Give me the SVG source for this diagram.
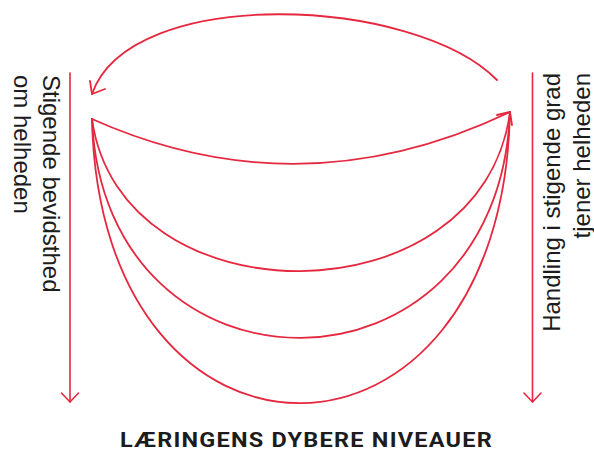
<svg xmlns="http://www.w3.org/2000/svg" width="594" height="453" viewBox="0 0 594 453">
<style>
.ln{fill:none;stroke:#E5283F;stroke-width:1.8;stroke-linecap:round;stroke-linejoin:round}
.ax{fill:none;stroke:#E5283F;stroke-width:1.6;stroke-linecap:round;stroke-linejoin:round}
.lbl{font-family:"Liberation Sans",Arial,sans-serif;font-size:24px;fill:#1c1c1c}
.ttl{font-family:Roboto,"Liberation Sans",sans-serif;font-weight:700;font-size:21px;fill:#1c1c1c}
</style>
<rect width="594" height="453" fill="#fff"/>
<g id="connectors">
  <path class="ln" d="M497 80 C415 -4 130 -16 92 94"/>
  <path class="ln" d="M90 81 L92 94 L105 89"/>
  <path class="ln" d="M92 119 Q300 212 510 112"/>
  <path class="ln" d="M92 119 C120 323 482 323 510 112"/>
  <path class="ln" d="M92 119 C104 412 498 412 510 112"/>
  <path class="ln" d="M92 119 C100 499 502 499 510 112"/>
  <path class="ln" d="M497 115 L510 112 L512 125"/>
  <path class="ax" d="M70 73 L70 402"/>
  <path class="ax" d="M61.5 393 L70 402 L78.5 393"/>
  <path class="ax" d="M532.5 73 L532.5 402"/>
  <path class="ax" d="M524 393 L532.5 402 L541 393"/>
</g>
<g id="label-left">
  <text class="lbl" transform="translate(43 75) rotate(90)"><tspan x="0" y="0">Stigende bevidsthed</tspan><tspan x="0" y="29.5">om helheden</tspan></text>
</g>
<g id="label-right">
  <text class="lbl" text-anchor="end" transform="translate(560 73) rotate(-90)"><tspan x="0" y="0">Handling i stigende grad</tspan><tspan x="0" y="29.5">tjener helheden</tspan></text>
</g>
<g id="title">
  <text class="ttl" transform="scale(1.12 1)" x="107.1" y="447.3" textLength="332" lengthAdjust="spacing">LÆRINGENS DYBERE NIVEAUER</text>
</g>
</svg>
